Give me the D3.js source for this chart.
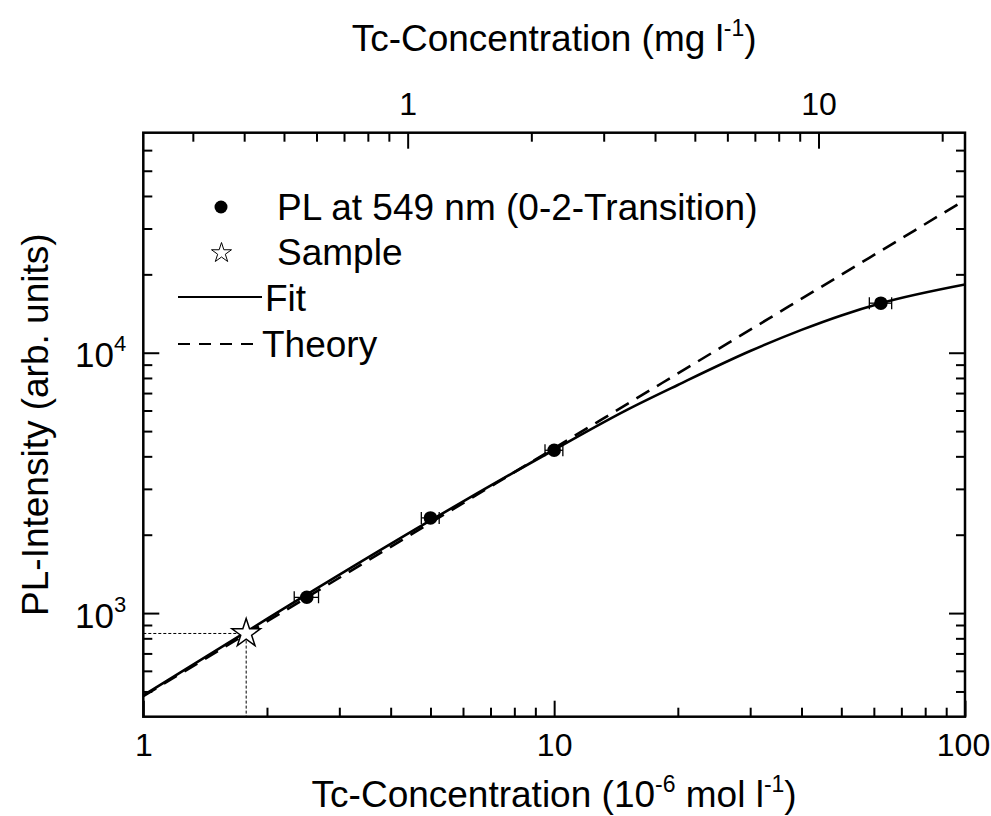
<!DOCTYPE html>
<html>
<head>
<meta charset="utf-8">
<script src="https://cdn.jsdelivr.net/npm/d3@7"></script>
<style>
body { margin: 0; background: #fff; }
svg text { font-family: "Liberation Sans", Arial, sans-serif; fill: #000; }
</style>
</head>
<body>
<div id="chart"></div>
<script>
// measured PL at 549 nm, concentration in 10^-6 mol/l
var concentration = [2.5, 5, 10, 62.4];
var intensity = [1150, 2320, 4220, 15500];
var concError = [0.17, 0.25, 0.5, 3.9];

// the sample (star), read back off the fit
var sampleConc = [1.78];
var sampleIntensity = [835];

// fit curve and theory line
var fitConc = [1, 2, 5, 10, 15, 20, 30, 40, 50, 62.4, 100];
var fitIntensity = [483, 950, 2268, 4240, 6020, 7520, 10150, 12240, 13910, 15490, 18280];
var theoryConc = [1, 10, 100];
var theoryIntensity = [480, 4300, 38600];

var xMajor = [1, 10, 100];
var xMinor = [2, 3, 4, 5, 6, 7, 8, 9, 20, 30, 40, 50, 60, 70, 80, 90];
var topMajor = [1, 10];
var topMinor = [0.3, 0.4, 0.5, 0.6, 0.7, 0.8, 0.9, 2, 3, 4, 5, 6, 7, 8, 9, 20];
var yMajor = [1000, 10000];
var yMinor = [500, 600, 700, 800, 900, 2000, 3000, 4000, 5000, 6000, 7000, 8000, 9000,
	20000, 30000, 40000, 50000, 60000];
var umolPerMg = 4.4; // 1 mg/l = 4.4e-6 mol/l on the top axis

var width = 991, height = 816;
// note: "top" is taken by window.top, so prefix everything
var plotLeft = 143.3, plotRight = 965, plotTop = 132.7, plotBottom = 716.7;

var svg = d3.select("#chart").append("svg")
	.attr("width", width)
	.attr("height", height);

var x = d3.scaleLog().domain([1, 100]).range([plotLeft, plotRight]);
var xTop = d3.scaleLog().domain([1 / umolPerMg, 100 / umolPerMg]).range([plotLeft, plotRight]);
var y = d3.scaleLog().domain([400, 70000]).range([plotBottom, plotTop]);

function styleAxis(g) {
	g.select(".domain").remove();
	g.selectAll(".tick line").attr("stroke", "#000").attr("stroke-width", 2);
	g.selectAll(".tick text").attr("font-size", 32);
}

// ticks all point inwards
var majorLen = 16, minorLen = 9;

svg.append("g").attr("transform", "translate(0," + plotBottom + ")")
	.call(d3.axisBottom(x).tickValues(xMinor).tickSize(-minorLen).tickFormat(""))
	.call(styleAxis);
var xAxisMajor = svg.append("g").attr("transform", "translate(0," + plotBottom + ")")
	.call(d3.axisBottom(x).tickValues(xMajor).tickSize(-majorLen).tickPadding(17).tickFormat(d3.format("d")))
	.call(styleAxis);
// keep "100" inside the window
xAxisMajor.selectAll(".tick text").filter(d => d == 100).attr("dx", -2);

svg.append("g").attr("transform", "translate(0," + plotTop + ")")
	.call(d3.axisTop(xTop).tickValues(topMinor).tickSize(-minorLen).tickFormat(""))
	.call(styleAxis);
svg.append("g").attr("transform", "translate(0," + plotTop + ")")
	.call(d3.axisTop(xTop).tickValues(topMajor).tickSize(-majorLen).tickPadding(18).tickFormat(d3.format("d")))
	.call(styleAxis);

svg.append("g").attr("transform", "translate(" + plotLeft + ",0)")
	.call(d3.axisLeft(y).tickValues(yMinor).tickSize(-minorLen).tickFormat(""))
	.call(styleAxis);
var yAxisLeft = svg.append("g").attr("transform", "translate(" + plotLeft + ",0)")
	.call(d3.axisLeft(y).tickValues(yMajor).tickSize(-majorLen).tickFormat(""))
	.call(styleAxis);
svg.append("g").attr("transform", "translate(" + plotRight + ",0)")
	.call(d3.axisRight(y).tickValues(yMinor).tickSize(-minorLen).tickFormat(""))
	.call(styleAxis);
svg.append("g").attr("transform", "translate(" + plotRight + ",0)")
	.call(d3.axisRight(y).tickValues(yMajor).tickSize(-majorLen).tickFormat(""))
	.call(styleAxis);

// 10^n labels by hand, d3 can't do superscripts
yAxisLeft.selectAll(".tick").each(function(d) {
	var t = d3.select(this).append("text")
		.attr("x", -17)
		.attr("y", 14)
		.attr("text-anchor", "end")
		.attr("font-size", 35);
	t.append("tspan").text("10");
	t.append("tspan").attr("font-size", 22).attr("dy", -16).text(Math.round(Math.log10(d)));
});

// frame
svg.append("rect")
	.attr("x", plotLeft).attr("y", plotTop)
	.attr("width", plotRight - plotLeft).attr("height", plotBottom - plotTop)
	.attr("fill", "none").attr("stroke", "#000").attr("stroke-width", 2.5);

svg.append("clipPath").attr("id", "clip")
	.append("rect")
	.attr("x", plotLeft).attr("y", plotTop)
	.attr("width", plotRight - plotLeft).attr("height", plotBottom - plotTop);

var plot = svg.append("g").attr("clip-path", "url(#clip)");

// dotted guide lines to the sample
plot.append("path")
	.attr("d", "M" + plotLeft + "," + y(sampleIntensity[0]) + "H" + x(sampleConc[0]) + "V" + plotBottom)
	.attr("fill", "none").attr("stroke", "#000").attr("stroke-width", 1)
	.attr("stroke-dasharray", "3,2");

var line = d3.line()
	.x(d => x(d[0]))
	.y(d => y(d[1]))
	.curve(d3.curveMonotoneX);

plot.append("path")
	.datum(theoryConc.map((c, i) => [c, theoryIntensity[i]]))
	.attr("d", line)
	.attr("fill", "none").attr("stroke", "#000").attr("stroke-width", 2.6)
	.attr("stroke-dasharray", "15,9");

plot.append("path")
	.datum(fitConc.map((c, i) => [c, fitIntensity[i]]))
	.attr("d", line)
	.attr("fill", "none").attr("stroke", "#000").attr("stroke-width", 2.6);

var points = concentration.map((c, i) => ({c: c, v: intensity[i], e: concError[i]}));

var bars = plot.append("g").attr("class", "errorbars")
	.selectAll("g").data(points).enter().append("g");
bars.append("line")
	.attr("x1", d => x(d.c - d.e)).attr("x2", d => x(d.c + d.e))
	.attr("y1", d => y(d.v)).attr("y2", d => y(d.v));
bars.append("line")
	.attr("x1", d => x(d.c - d.e)).attr("x2", d => x(d.c - d.e))
	.attr("y1", d => y(d.v) - 6).attr("y2", d => y(d.v) + 6);
bars.append("line")
	.attr("x1", d => x(d.c + d.e)).attr("x2", d => x(d.c + d.e))
	.attr("y1", d => y(d.v) - 6).attr("y2", d => y(d.v) + 6);
bars.selectAll("line").attr("stroke", "#000").attr("stroke-width", 1.3);

plot.append("g").selectAll("circle")
	.data(points).enter().append("circle")
	.attr("cx", d => x(d.c))
	.attr("cy", d => y(d.v))
	.attr("r", 6.8)
	.attr("fill", "#000");

var star = d3.symbol().type(d3.symbolStar);
plot.append("g").selectAll("path")
	.data(sampleConc).enter().append("path")
	.attr("transform", (d, i) => "translate(" + x(d) + "," + y(sampleIntensity[i]) + ")")
	.attr("d", star.size(15 * 15 / 0.8908))
	.attr("fill", "#fff").attr("stroke", "#000").attr("stroke-width", 1.5);

// legend
var legendFont = 37;
var legend = svg.append("g");
legend.append("circle").attr("cx", 221).attr("cy", 207).attr("r", 6.5).attr("fill", "#000");
legend.append("text").attr("x", 277).attr("y", 220).attr("font-size", legendFont).text("PL at 549 nm (0-2-Transition)");
legend.append("path")
	.attr("transform", "translate(221.5,253)")
	.attr("d", d3.symbol().type(d3.symbolStar).size(10.5 * 10.5 / 0.8908))
	.attr("fill", "#fff").attr("stroke", "#000").attr("stroke-width", 1);
legend.append("text").attr("x", 277).attr("y", 265).attr("font-size", legendFont).text("Sample");
legend.append("line").attr("x1", 178).attr("x2", 262).attr("y1", 297).attr("y2", 297)
	.attr("stroke", "#000").attr("stroke-width", 2);
legend.append("text").attr("x", 265).attr("y", 311).attr("font-size", legendFont).text("Fit");
legend.append("line").attr("x1", 178).attr("x2", 256).attr("y1", 344).attr("y2", 344)
	.attr("stroke", "#000").attr("stroke-width", 2).attr("stroke-dasharray", "12,9");
legend.append("text").attr("x", 262).attr("y", 357).attr("font-size", legendFont).text("Theory");

// axis titles
var titleFont = 37, supFont = 23;
var xt = svg.append("text")
	.attr("x", (plotLeft + plotRight) / 2).attr("y", 807)
	.attr("text-anchor", "middle").attr("font-size", titleFont);
xt.append("tspan").text("Tc-Concentration (10");
xt.append("tspan").attr("font-size", supFont).attr("dy", -15).text("-6");
xt.append("tspan").attr("dy", 15).text(" mol l");
xt.append("tspan").attr("font-size", supFont).attr("dy", -15).text("-1");
xt.append("tspan").attr("dy", 15).text(")");

var tt = svg.append("text")
	.attr("x", (plotLeft + plotRight) / 2).attr("y", 51)
	.attr("text-anchor", "middle").attr("font-size", titleFont);
tt.append("tspan").text("Tc-Concentration (mg l");
tt.append("tspan").attr("font-size", supFont).attr("dy", -15).text("-1");
tt.append("tspan").attr("dy", 15).text(")");

svg.append("text")
	.attr("transform", "translate(48," + (plotTop + plotBottom) / 2 + ") rotate(-90)")
	.attr("text-anchor", "middle").attr("font-size", titleFont)
	.text("PL-Intensity (arb. units)");
</script>
</body>
</html>
